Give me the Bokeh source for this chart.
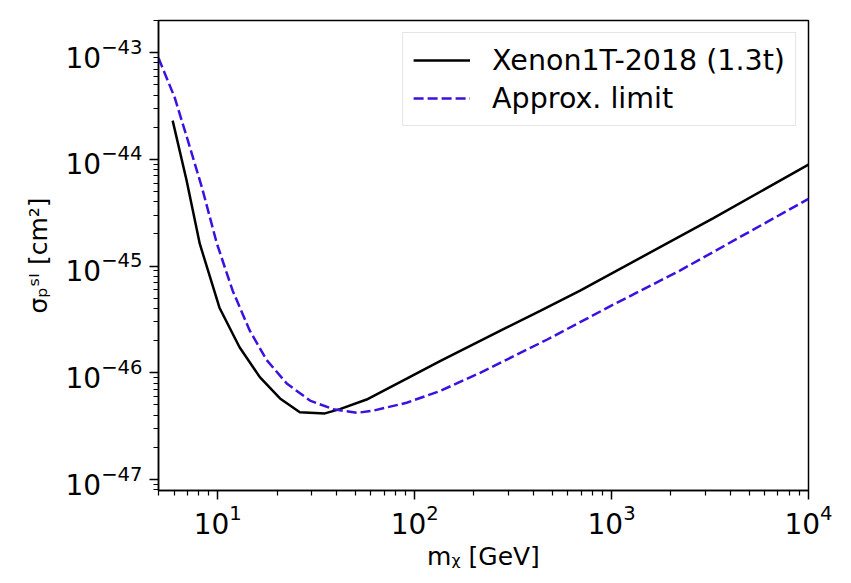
from bokeh.plotting import figure
from bokeh.models import FixedTicker, LogTickFormatter
from bokeh.embed import file_html
from bokeh.resources import INLINE

# Xenon1T-2018 (1.3t) limit
xenon_mass = [5.9, 6.95, 8.1, 10.2, 12.9, 16.35, 20.7, 26.1, 35.0, 41.7, 57.0, 91.1, 134.5, 215.0, 294.0, 434.0, 692.0, 3290.0, 10000.0]
xenon_logsigma = [-43.637, -44.20, -44.79, -45.39, -45.76, -46.04, -46.24, -46.37, -46.38, -46.34, -46.25, -46.055, -45.89, -45.70, -45.575, -45.42, -45.23, -44.55, -44.05]

# Approximate limit
approx_mass = [5.0, 6.04, 7.04, 8.3, 9.9, 11.9, 14.5, 17.7, 22.4, 29.4, 38.5, 50.9, 61.4, 91.1, 134.5, 215.0, 469.0, 1023.0, 2233.0, 10000.0]
approx_logsigma = [-43.05, -43.42, -43.82, -44.26, -44.79, -45.23, -45.60, -45.88, -46.10, -46.26, -46.34, -46.375, -46.355, -46.28, -46.17, -46.00, -45.69, -45.36, -45.04, -44.37]

series_labels = ["Xenon1T-2018 (1.3t)", "Approx. limit"]

# tick decades
x_decades = [1, 2, 3, 4]
y_decades = [-47, -46, -45, -44, -43]

xenon_sigma = [10.0 ** v for v in xenon_logsigma]
approx_sigma = [10.0 ** v for v in approx_logsigma]

x_major = [10.0 ** d for d in x_decades]
x_minor = [k * 10.0 ** d for d in [0, 1, 2, 3] for k in range(2, 10)]
y_major = [10.0 ** d for d in y_decades]
y_minor = [k * 10.0 ** d for d in [-48, -47, -46, -45, -44, -43] for k in range(2, 10)]

FONT = "DejaVu Sans"

p = figure(width=843, height=575, x_axis_type="log", y_axis_type="log",
           x_range=(5, 1e4), y_range=(7.9e-48, 2e-43),
           output_backend="svg", toolbar_location=None,
           min_border_left=158, min_border_right=35,
           min_border_top=20, min_border_bottom=85)

p.line(xenon_mass, xenon_sigma, line_color="black", line_width=2.5,
       legend_label=series_labels[0])
p.line(approx_mass, approx_sigma, line_color="#3c10e0", line_width=2.5,
       line_dash="10 4", legend_label=series_labels[1])

p.xgrid.visible = False
p.ygrid.visible = False
p.outline_line_color = "black"
p.outline_line_width = 1.5
p.outline_line_alpha = 1.0
p.background_fill_color = "white"
p.border_fill_color = "white"

p.xaxis.ticker = FixedTicker(ticks=x_major, minor_ticks=x_minor)
p.yaxis.ticker = FixedTicker(ticks=y_major, minor_ticks=y_minor)
p.xaxis.formatter = LogTickFormatter()
p.yaxis.formatter = LogTickFormatter()

for ax in (p.xaxis, p.yaxis):
    ax.axis_line_color = "black"
    ax.axis_line_width = 1.5
    ax.major_tick_line_color = "black"
    ax.major_tick_line_width = 1.5
    ax.minor_tick_line_color = "black"
    ax.minor_tick_line_width = 1.2
    ax.major_tick_in = 0
    ax.major_tick_out = 9
    ax.minor_tick_in = 0
    ax.minor_tick_out = 5
    ax.major_label_text_font = FONT
    ax.major_label_text_font_size = "28px"
    ax.major_label_text_color = "black"
    ax.axis_label_text_font = FONT
    ax.axis_label_text_font_size = "25px"
    ax.axis_label_text_font_style = "normal"
    ax.axis_label_text_color = "black"

p.xaxis.major_label_standoff = 4
p.yaxis.major_label_standoff = 7
p.xaxis.axis_label = "mᵪ [GeV]"
p.yaxis.axis_label = "σₚˢᴵ [cm²]"
p.xaxis.axis_label_standoff = 5
p.yaxis.axis_label_standoff = 10

lg = p.legend[0]
lg.location = "top_right"
lg.margin = 12
lg.padding = 10
lg.spacing = 4
lg.glyph_width = 57
lg.glyph_height = 34
lg.label_height = 34
lg.label_standoff = 22
lg.label_text_font = FONT
lg.label_text_font_size = "28.5px"
lg.label_text_color = "black"
lg.border_line_color = "#cccccc"
lg.border_line_width = 1.2
lg.background_fill_color = "white"
lg.background_fill_alpha = 0.8

open("out.html", "w").write(file_html(p, INLINE))
